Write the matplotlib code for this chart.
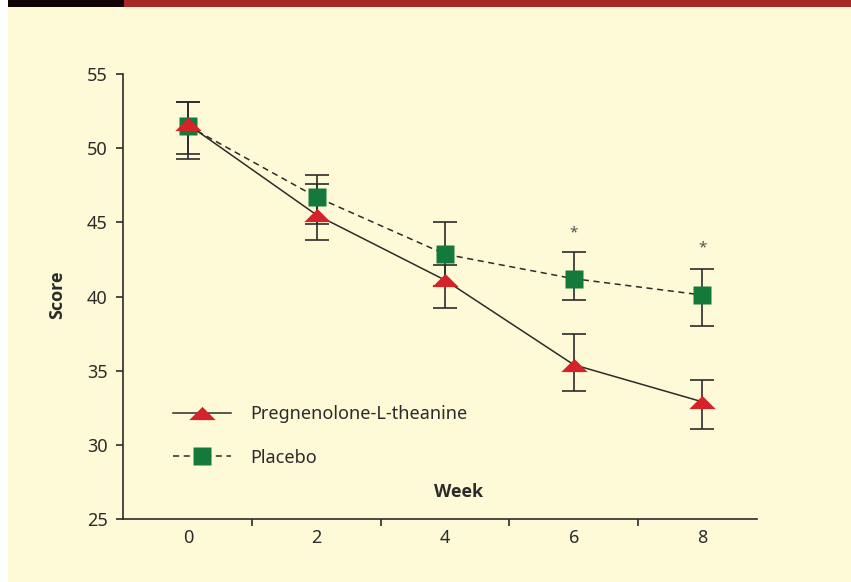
import matplotlib
matplotlib.use('Agg')
import matplotlib.pyplot as plt
import numpy as np
from matplotlib.lines import Line2D

weeks = [0, 2, 4, 6, 8]

# Pregnenolone-L-theanine
preg_mean = [51.6, 45.5, 41.1, 35.4, 32.9]
preg_upper = [53.1, 47.6, 42.1, 37.45, 34.4]
preg_lower = [49.6, 43.8, 39.2, 33.6, 31.1]

# Placebo
plac_mean = [51.5, 46.7, 42.85, 41.2, 40.1]
plac_upper = [53.1, 48.2, 45.0, 43.0, 41.85]
plac_lower = [49.3, 44.9, 40.7, 39.75, 38.0]

star_weeks = [6, 8]
star_y = [44.3, 43.3]

bg = '#fef9d6'
red = '#d42329'
green = '#137a3c'
ink = '#2b2b2b'

plt.rcParams['font.family'] = ['Noto Sans', 'DejaVu Sans']
bold_family = ['Open Sans', 'DejaVu Sans']

fig = plt.figure(figsize=(8.51, 5.82), dpi=100)
fig.patch.set_facecolor('white')

# cream panel + top band
fig.patches.append(plt.Rectangle((8 / 851, 0), 1, 1 - 7 / 582, transform=fig.transFigure,
                                 facecolor=bg, edgecolor='none', zorder=-10))
fig.patches.append(plt.Rectangle((8 / 851, 1 - 7 / 582), (124 - 8) / 851, 7 / 582,
                                 transform=fig.transFigure, facecolor='#120404',
                                 edgecolor='none', zorder=-10))
fig.patches.append(plt.Rectangle((124 / 851, 1 - 7 / 582), 1, 7 / 582,
                                 transform=fig.transFigure, facecolor='#a82a25',
                                 edgecolor='none', zorder=-10))

ax = fig.add_axes([123 / 851, 63 / 582, (757 - 123) / 851, (519 - 74) / 582])
ax.set_facecolor('none')

tri = [(-1, -0.5), (1, -0.5), (0, 0.5)]


def yerr(mean, up, lo):
    m = np.array(mean)
    return [m - np.array(lo), np.array(up) - m]


ax.errorbar(weeks, plac_mean, yerr=yerr(plac_mean, plac_upper, plac_lower), fmt='none',
            ecolor=ink, elinewidth=1.2, capsize=8.3, capthick=1.2, zorder=2)
ax.errorbar(weeks, preg_mean, yerr=yerr(preg_mean, preg_upper, preg_lower), fmt='none',
            ecolor=ink, elinewidth=1.2, capsize=8.3, capthick=1.2, zorder=2)

ax.plot(weeks, plac_mean, color=ink, linewidth=1.1, linestyle=(0, (4, 3)),
        marker='s', markersize=13, markerfacecolor=green, markeredgecolor='none',
        label='Placebo', zorder=3)
ax.plot(weeks, preg_mean, color=ink, linewidth=1.1, linestyle='-',
        marker=tri, markersize=19, markerfacecolor=red, markeredgecolor='none',
        label='Pregnenolone-L-theanine', zorder=4)

for wx, sy in zip(star_weeks, star_y):
    ax.text(wx, sy, '*', ha='center', va='center', fontsize=11, color='#555555')

ax.set_xlim(-1.01, 8.85)
ax.set_ylim(25, 55)
ax.set_yticks([25, 30, 35, 40, 45, 50, 55])
ax.set_xticks([1, 3, 5, 7])
ax.set_xticklabels([])
ax.set_xticks(weeks, minor=True)
ax.set_xticklabels([str(w) for w in weeks], minor=True)
ax.tick_params(axis='x', which='minor', length=0, pad=7, labelsize=13, colors=ink)
ax.tick_params(axis='x', which='major', length=5, width=1.2, color=ink)
ax.tick_params(axis='y', length=5, width=1.2, color=ink, labelsize=13, labelcolor=ink, pad=6)

for s in ['top', 'right']:
    ax.spines[s].set_visible(False)
for s in ['left', 'bottom']:
    ax.spines[s].set_color(ink)
    ax.spines[s].set_linewidth(1.2)

ax.text(0.53, 0.06, 'Week', transform=ax.transAxes, ha='center', va='center',
        fontsize=13, fontweight='bold', color=ink, family=bold_family)
fig.text(57 / 851, 1 - 295 / 582, 'Score', rotation=90, ha='center', va='center',
         fontsize=13, fontweight='bold', color=ink, family=bold_family)

handles = [
    Line2D([], [], color=ink, linewidth=1.1, marker=tri, markersize=19,
           markerfacecolor=red, markeredgecolor='none'),
    Line2D([], [], color=ink, linewidth=1.1, linestyle=(0, (4, 3)), marker='s',
           markersize=13, markerfacecolor=green, markeredgecolor='none'),
]
ax.legend(handles, ['Pregnenolone-L-theanine', 'Placebo'], loc='center left',
          bbox_to_anchor=(50 / 634, (519 - 436) / 445), frameon=False, fontsize=13,
          handlelength=3.2, handletextpad=1.1, labelspacing=1.4, borderpad=0,
          borderaxespad=0, labelcolor=ink)

fig.savefig('out.png', dpi=100, facecolor=fig.get_facecolor())
